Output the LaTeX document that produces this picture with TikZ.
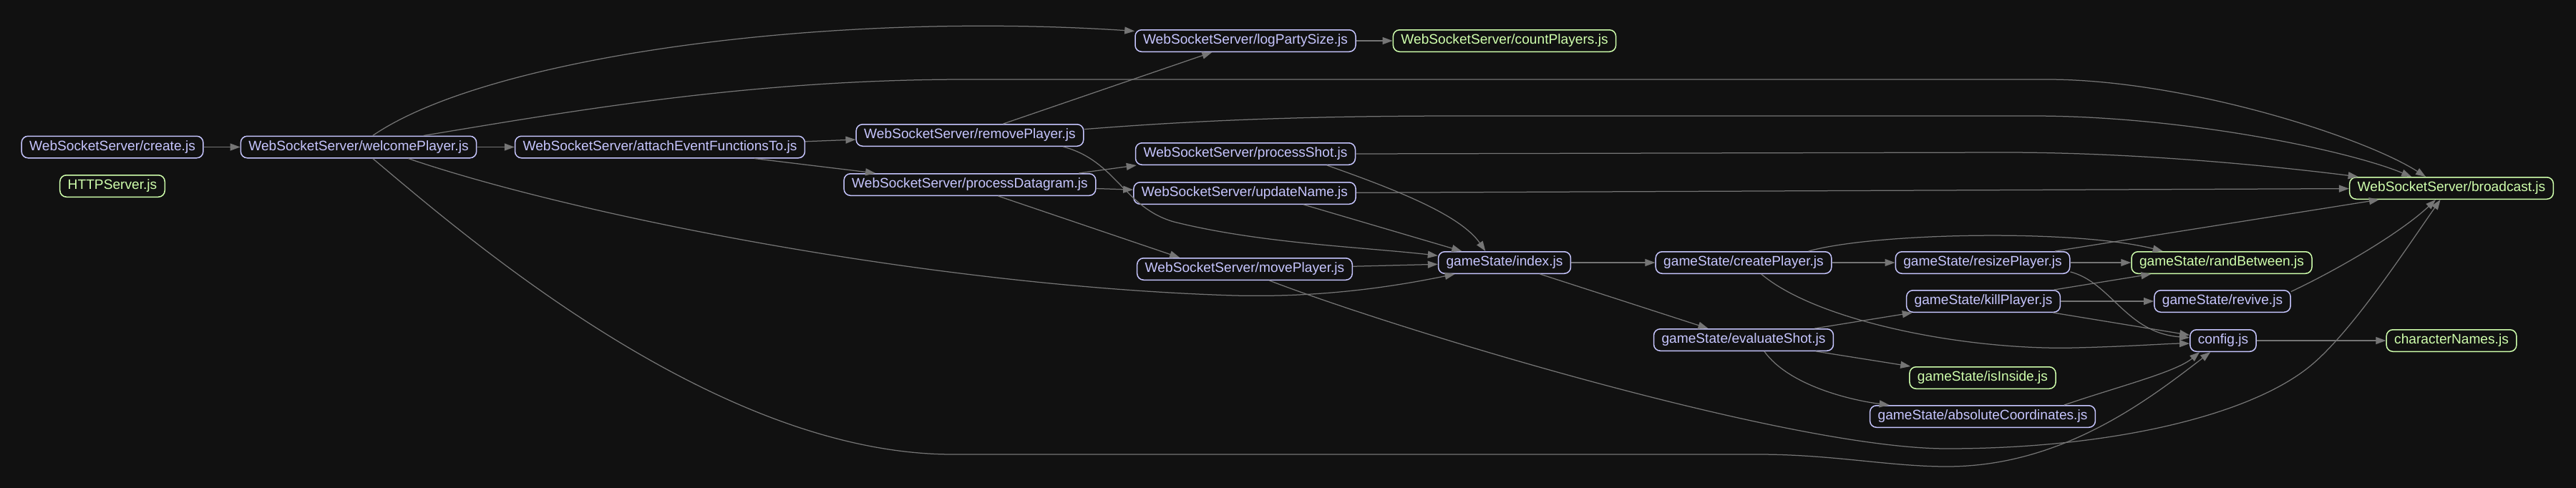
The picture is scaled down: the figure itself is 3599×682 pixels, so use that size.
\documentclass[tikz,border=0pt]{standalone}
\usepackage{fontspec}
\setmainfont{Liberation Sans}
\usepackage{xcolor}
\usepackage{tikz}
\usetikzlibrary{arrows.meta}
\definecolor{bgc}{HTML}{111111}
\definecolor{modc}{HTML}{C6C5FE}
\definecolor{leafc}{HTML}{CFFFAC}
\definecolor{edgec}{HTML}{757575}
\tikzset{
  dep/.style={-{Triangle[length=2.8mm,width=2mm]},line width=0.25mm,edgec},
  mod/.style={draw=modc,text=modc,line width=0.3mm,rounded corners=1.8mm,fill=bgc,inner xsep=2.2mm,inner ysep=0pt,minimum height=6.1mm,font=\fontsize{10.9}{13}\selectfont},
  leaf/.style={mod,draw=leafc,text=leafc}
}
\begin{document}
\begin{tikzpicture}[x=0.2mm,y=-0.2mm]
\useasboundingbox[fill=bgc] (0,0) rectangle (3599,682);
\node[mod] (create) at (157,205.5) {WebSocketServer/create.js};
\node[leaf] (http) at (157,260) {HTTPServer.js};
\node[mod] (welcome) at (501,205.5) {WebSocketServer/welcomePlayer.js};
\node[mod] (attach) at (922,205.5) {WebSocketServer/attachEventFunctionsTo.js};
\node[mod] (remove) at (1355,189) {WebSocketServer/removePlayer.js};
\node[mod] (datagram) at (1355,258) {WebSocketServer/processDatagram.js};
\node[mod] (logparty) at (1740,57) {WebSocketServer/logPartySize.js};
\node[leaf] (countp) at (2102,57) {WebSocketServer/countPlayers.js};
\node[mod] (shot) at (1740,215) {WebSocketServer/processShot.js};
\node[mod] (upname) at (1739,270) {WebSocketServer/updateName.js};
\node[mod] (move) at (1739,376) {WebSocketServer/movePlayer.js};
\node[mod] (index) at (2102,367) {gameState/index.js};
\node[mod] (createp) at (2436,367) {gameState/createPlayer.js};
\node[mod] (evalshot) at (2436,475) {gameState/evaluateShot.js};
\node[mod] (resize) at (2770,367) {gameState/resizePlayer.js};
\node[mod] (kill) at (2771,421) {gameState/killPlayer.js};
\node[leaf] (inside) at (2770,528) {gameState/isInside.js};
\node[mod] (abscoord) at (2770,582) {gameState/absoluteCoordinates.js};
\node[leaf] (rand) at (3104,367) {gameState/randBetween.js};
\node[mod] (revive) at (3105,421) {gameState/revive.js};
\node[mod] (config) at (3106,476) {config.js};
\node[leaf] (broadcast) at (3425,263) {WebSocketServer/broadcast.js};
\node[leaf] (charnames) at (3425,476) {characterNames.js};

\draw[dep] (create) -- (welcome);
\draw[dep] (welcome) -- (attach);
\draw[dep] (welcome.39) .. controls (680,80) and (1150,15) .. (logparty.175);
\draw[dep] (welcome.10) .. controls (800,155) and (1050,111) .. (1350,111) -- (2860,111) .. controls (3050,111) and (3300,190) .. (broadcast.156);
\draw[dep] (welcome.-13) .. controls (800,300) and (1300,400) .. (1725,413) .. controls (1850,416) and (1950,400) .. (index.193);
\draw[dep] (welcome.-39) .. controls (650,330) and (1000,635) .. (1331,635) -- (2456,635) .. controls (2560,635) and (2640,652) .. (2720,652) .. controls (2880,652) and (3000,560) .. (config.222);
\draw[dep] (attach) -- (remove);
\draw[dep] (attach) -- (datagram);
\draw[dep] (remove) -- (logparty);
\draw[dep] (remove.3) .. controls (1650,170) and (1800,162) .. (2040,162) -- (2840,162) .. controls (3050,162) and (3280,210) .. (broadcast.164);
\draw[dep] (remove.-7) .. controls (1560,225) and (1570,290) .. (1640,310) .. controls (1760,340) and (1900,345) .. (index.174);
\draw[dep] (datagram.6) -- (shot.186);
\draw[dep] (datagram) -- (upname);
\draw[dep] (datagram.-22) -- (move.170);
\draw[dep] (logparty) -- (countp);
\draw[dep] (shot.east) -- (2800,213) .. controls (3000,213) and (3200,235) .. (broadcast.173);
\draw[dep] (shot.-8) .. controls (1950,265) and (2040,300) .. (index.149);
\draw[dep] (upname) -- (broadcast);
\draw[dep] (upname.-11) -- (index.165);
\draw[dep] (move) -- (index);
\draw[dep] (move.-25) .. controls (1950,460) and (2500,627) .. (2720,627) .. controls (2950,627) and (3150,580) .. (3233,507) .. controls (3290,457) and (3360,350) .. (broadcast.226);
\draw[dep] (index) -- (createp);
\draw[dep] (index) -- (evalshot);
\draw[dep] (createp) -- (resize);
\draw[dep] (createp.10) .. controls (2620,325) and (2900,320) .. (rand.169);
\draw[dep] (createp.-33) .. controls (2540,450) and (2750,490) .. (2900,486) .. controls (2980,484) and (3030,480) .. (config.185);
\draw[dep] (resize) -- (rand);
\draw[dep] (resize.9) -- (broadcast.189);
\draw[dep] (resize.-6) .. controls (2950,395) and (2970,465) .. (config.175);
\draw[dep] (kill) -- (rand);
\draw[dep] (kill) -- (revive);
\draw[dep] (kill) -- (config);
\draw[dep] (revive.8) .. controls (3280,370) and (3360,320) .. (broadcast.216);
\draw[dep] (evalshot) -- (kill);
\draw[dep] (evalshot) -- (inside);
\draw[dep] (evalshot.-29) .. controls (2500,540) and (2590,560) .. (abscoord.173);
\draw[dep] (abscoord.8) .. controls (2960,540) and (3040,520) .. (config.206);
\draw[dep] (config) -- (charnames);
\end{tikzpicture}
\end{document}
